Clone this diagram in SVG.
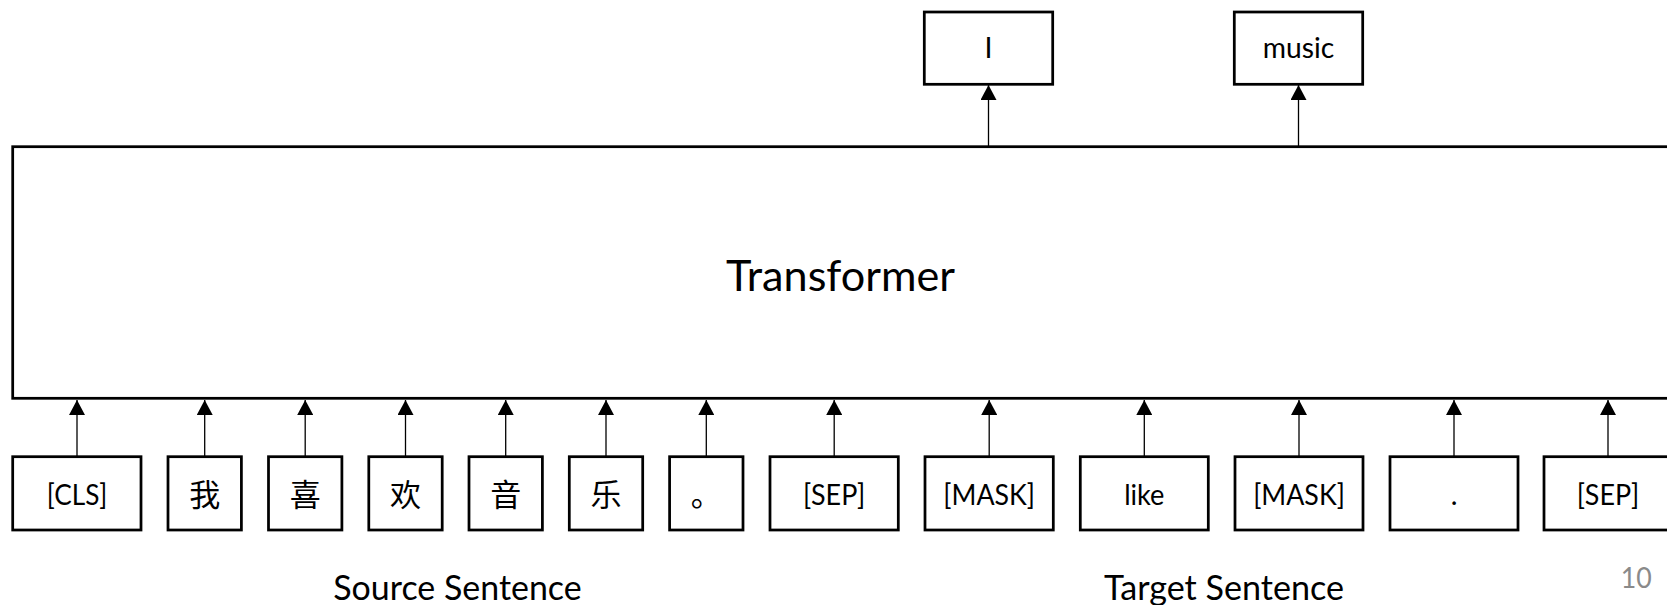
<svg xmlns="http://www.w3.org/2000/svg" width="1667" height="605" viewBox="0 0 1667 605">
  <style>
    .box { fill: #ffffff; stroke: #000000; stroke-width: 2.75; }
    .wire { stroke: #000000; stroke-width: 1.3; fill: none; marker-end: url(#head); }
    .tok { font-family: Lato, "Noto Sans", "Liberation Sans", sans-serif; font-size: 28.5px; fill: #000000; text-anchor: middle; }
    .cjk { font-family: "Noto Sans CJK SC", "Noto Sans", sans-serif; font-size: 31px; fill: #000000; text-anchor: middle; }
    .title { font-family: Lato, "Noto Sans", "Liberation Sans", sans-serif; font-size: 43px; fill: #000000; text-anchor: middle; }
    .caption { font-family: Lato, "Noto Sans", "Liberation Sans", sans-serif; font-size: 34px; fill: #000000; text-anchor: middle; }
    .pageno { font-family: Lato, "Noto Sans", "Liberation Sans", sans-serif; font-size: 28px; fill: #8a8a8a; }
  </style>
  <defs>
    <marker id="head" markerUnits="userSpaceOnUse" viewBox="0 0 15 16" refX="15" refY="8" markerWidth="15" markerHeight="16" orient="auto">
      <path d="M0,0 L15,8 L0,16 z" fill="#000000"/>
    </marker>
  </defs>

  <rect width="1667" height="605" fill="#ffffff"/>

  <!-- connectors: inputs into the encoder, predictions out of it -->
  <g id="connectors">
    <line class="wire" x1="77" y1="456.5" x2="77" y2="400"/>
    <line class="wire" x1="204.7" y1="456.5" x2="204.7" y2="400"/>
    <line class="wire" x1="305.2" y1="456.5" x2="305.2" y2="400"/>
    <line class="wire" x1="405.5" y1="456.5" x2="405.5" y2="400"/>
    <line class="wire" x1="505.7" y1="456.5" x2="505.7" y2="400"/>
    <line class="wire" x1="606" y1="456.5" x2="606" y2="400"/>
    <line class="wire" x1="706.3" y1="456.5" x2="706.3" y2="400"/>
    <line class="wire" x1="834.2" y1="456.5" x2="834.2" y2="400"/>
    <line class="wire" x1="989.2" y1="456.5" x2="989.2" y2="400"/>
    <line class="wire" x1="1144.3" y1="456.5" x2="1144.3" y2="400"/>
    <line class="wire" x1="1299" y1="456.5" x2="1299" y2="400"/>
    <line class="wire" x1="1454" y1="456.5" x2="1454" y2="400"/>
    <line class="wire" x1="1608" y1="456.5" x2="1608" y2="400"/>
    <line class="wire" x1="988.5" y1="146.5" x2="988.5" y2="85"/>
    <line class="wire" x1="1298.5" y1="146.5" x2="1298.5" y2="85"/>
  </g>

  <!-- encoder -->
  <g id="transformer">
    <rect class="box" x="12.7" y="146.7" width="1656" height="251.6"/>
    <text class="title" x="840.5" y="290.7" textLength="229" lengthAdjust="spacingAndGlyphs">Transformer</text>
  </g>

  <!-- predicted tokens -->
  <g id="out-i">
    <rect class="box" x="924.3" y="12" width="128.4" height="72.3"/>
    <text class="tok" x="988.5" y="58">I</text>
  </g>
  <g id="out-music">
    <rect class="box" x="1234.3" y="12" width="128.4" height="72.3"/>
    <text class="tok" x="1298.5" y="58" textLength="71.5" lengthAdjust="spacingAndGlyphs">music</text>
  </g>

  <!-- source sentence tokens -->
  <g id="tok-cls">
    <rect class="box" x="12.7" y="456.7" width="128.3" height="73.3"/>
    <text class="tok" x="77" y="505" textLength="60.4" lengthAdjust="spacingAndGlyphs">[CLS]</text>
  </g>
  <g id="tok-wo">
    <rect class="box" x="168" y="456.7" width="73.4" height="73.3"/>
    <text class="cjk" x="204.7" y="506">我</text>
  </g>
  <g id="tok-xi">
    <rect class="box" x="268.5" y="456.7" width="73.4" height="73.3"/>
    <text class="cjk" x="305.2" y="506">喜</text>
  </g>
  <g id="tok-huan">
    <rect class="box" x="368.8" y="456.7" width="73.4" height="73.3"/>
    <text class="cjk" x="405.5" y="506">欢</text>
  </g>
  <g id="tok-yin">
    <rect class="box" x="469" y="456.7" width="73.4" height="73.3"/>
    <text class="cjk" x="505.7" y="506">音</text>
  </g>
  <g id="tok-yue">
    <rect class="box" x="569.3" y="456.7" width="73.4" height="73.3"/>
    <text class="cjk" x="606" y="506">乐</text>
  </g>
  <g id="tok-stop-zh">
    <rect class="box" x="669.6" y="456.7" width="73.4" height="73.3"/>
    <text class="cjk" x="706.3" y="506">。</text>
  </g>
  <g id="tok-sep-1">
    <rect class="box" x="770" y="456.7" width="128.3" height="73.3"/>
    <text class="tok" x="834.2" y="505" textLength="62.3" lengthAdjust="spacingAndGlyphs">[SEP]</text>
  </g>

  <!-- target sentence tokens -->
  <g id="tok-mask-1">
    <rect class="box" x="925" y="456.7" width="128.3" height="73.3"/>
    <text class="tok" x="989.2" y="505" textLength="91.7" lengthAdjust="spacingAndGlyphs">[MASK]</text>
  </g>
  <g id="tok-like">
    <rect class="box" x="1080.3" y="456.7" width="128" height="73.3"/>
    <text class="tok" x="1144.3" y="505" textLength="40.3" lengthAdjust="spacingAndGlyphs">like</text>
  </g>
  <g id="tok-mask-2">
    <rect class="box" x="1235" y="456.7" width="128" height="73.3"/>
    <text class="tok" x="1299" y="505" textLength="91.7" lengthAdjust="spacingAndGlyphs">[MASK]</text>
  </g>
  <g id="tok-stop-en">
    <rect class="box" x="1390" y="456.7" width="128" height="73.3"/>
    <text class="tok" x="1454" y="505">.</text>
  </g>
  <g id="tok-sep-2">
    <rect class="box" x="1544" y="456.7" width="128" height="73.3"/>
    <text class="tok" x="1608" y="505" textLength="62.3" lengthAdjust="spacingAndGlyphs">[SEP]</text>
  </g>

  <!-- captions -->
  <g id="captions">
    <text class="caption" x="457.5" y="599.5" textLength="248.4" lengthAdjust="spacingAndGlyphs">Source Sentence</text>
    <text class="caption" x="1224" y="599.5" textLength="240" lengthAdjust="spacingAndGlyphs">Target Sentence</text>
    <text class="pageno" x="1620.7" y="588.3" textLength="31" lengthAdjust="spacingAndGlyphs">10</text>
  </g>
</svg>
